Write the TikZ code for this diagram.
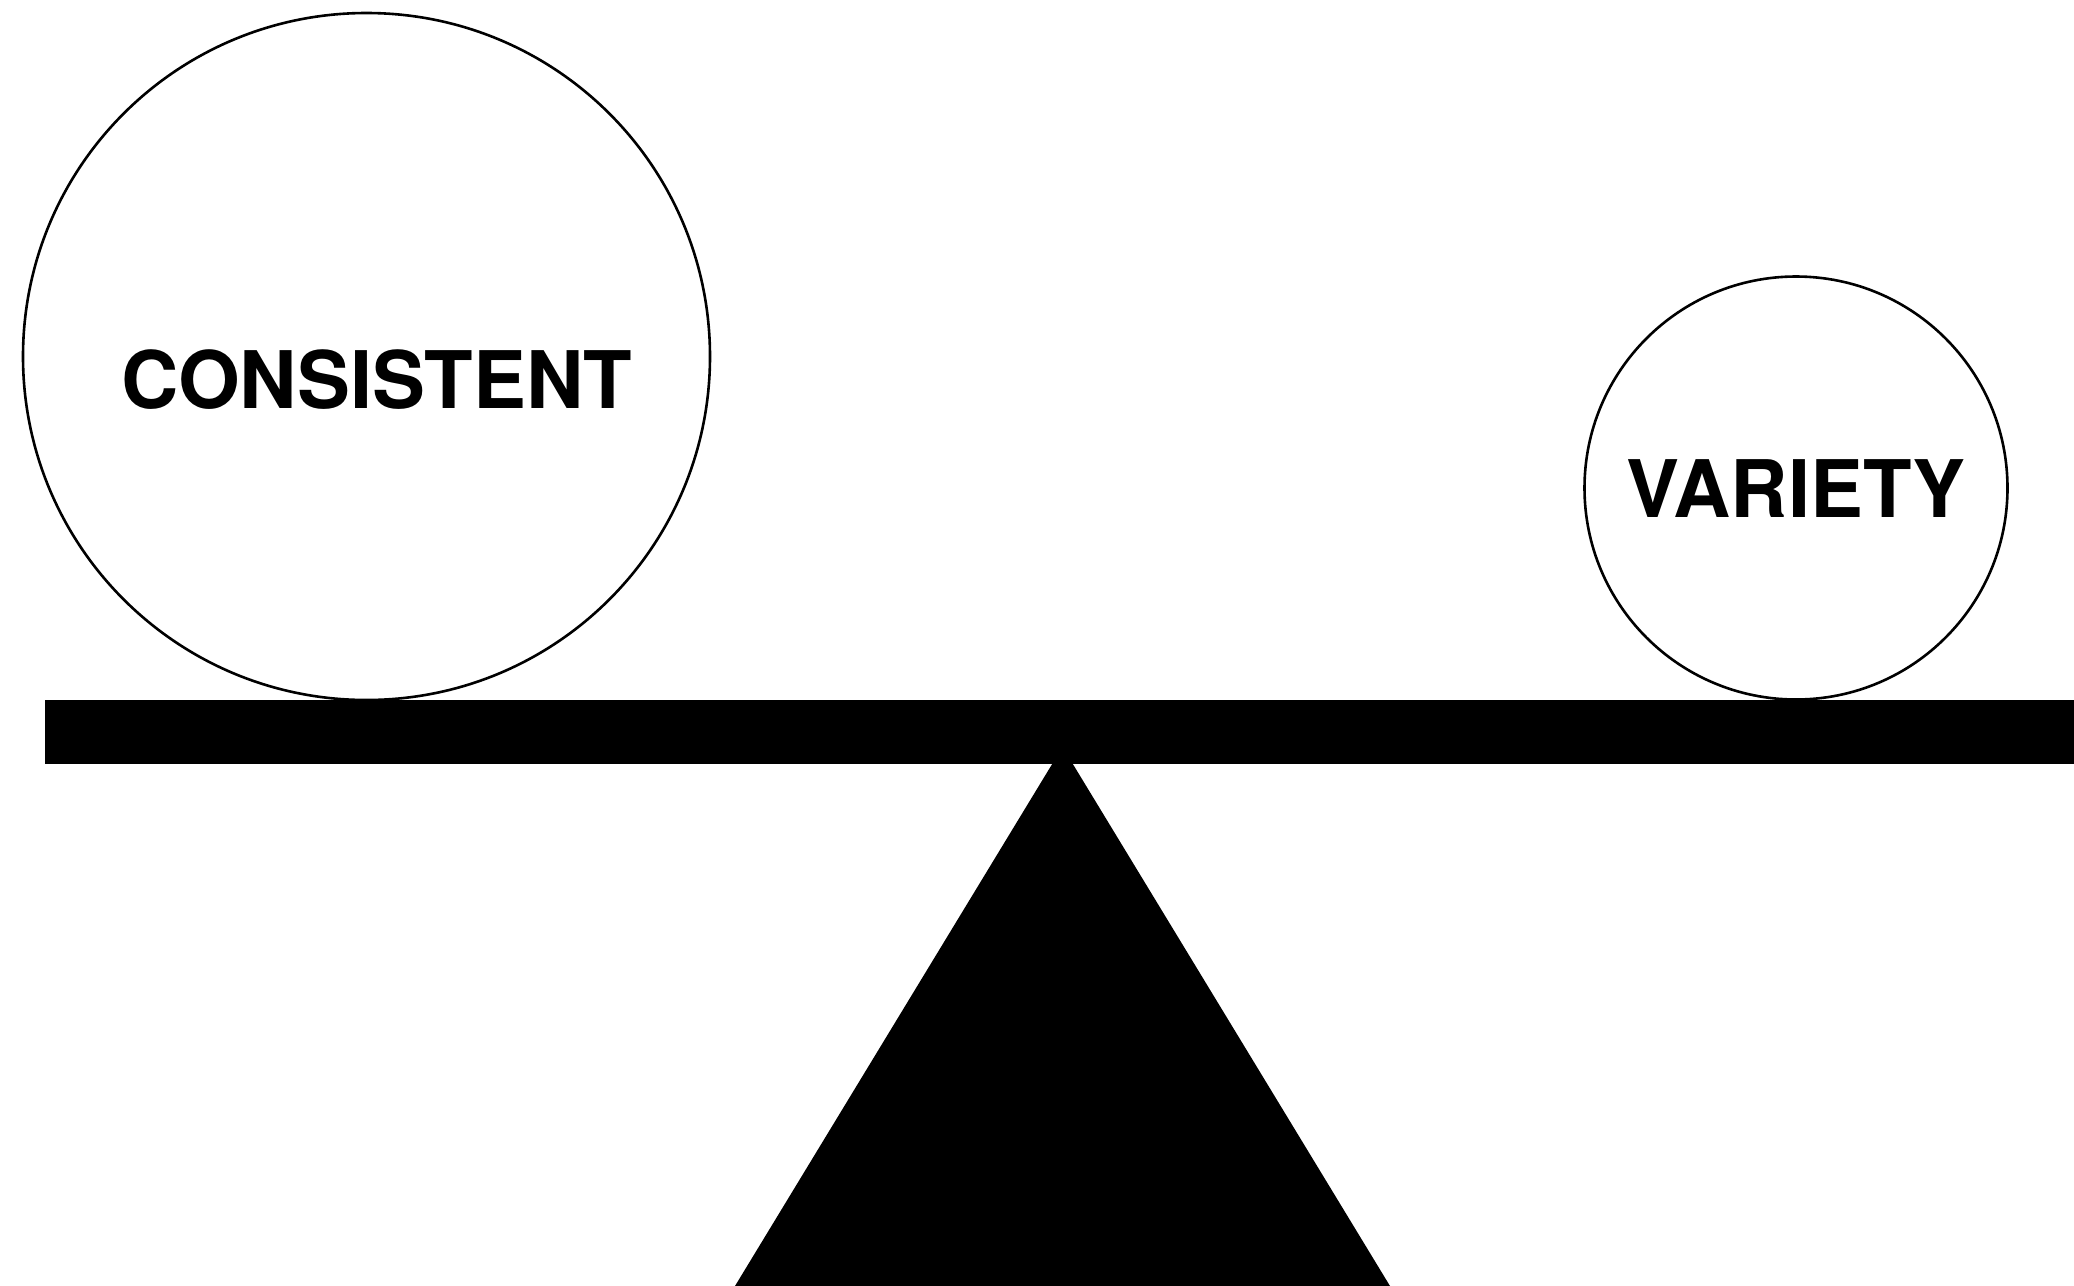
\documentclass[tikz,border=0pt]{standalone}
\usepackage{fontspec}
\setmainfont{TeX Gyre Heros}
\tikzset{
  ball/.style={draw=black, line width=1.3pt, fill=white},
  word/.style={font=\fontsize{39.7pt}{40pt}\selectfont\bfseries, inner sep=0pt, anchor=base},
}
\begin{document}
\begin{tikzpicture}[x=0.5pt,y=-0.5pt]
\useasboundingbox (0,0) rectangle (2074,1286);
% fulcrum
\fill[black] (1062.5,747) coordinate (apex) -- (735,1286) coordinate (bl) -- (1390,1286) coordinate (br) -- cycle;
% beam
\fill[black] (45,700) rectangle (2074,763.5);
% balls
\draw[ball] (366.5,356.5) circle[radius=343.5];
\draw[ball] (1796,488) circle[radius=211.5];
\node[word] (c) at (376.5,408.5) {CONSISTENT};
\node[word] (v) at (1796,517.3) {VARIETY};
\end{tikzpicture}
\end{document}
